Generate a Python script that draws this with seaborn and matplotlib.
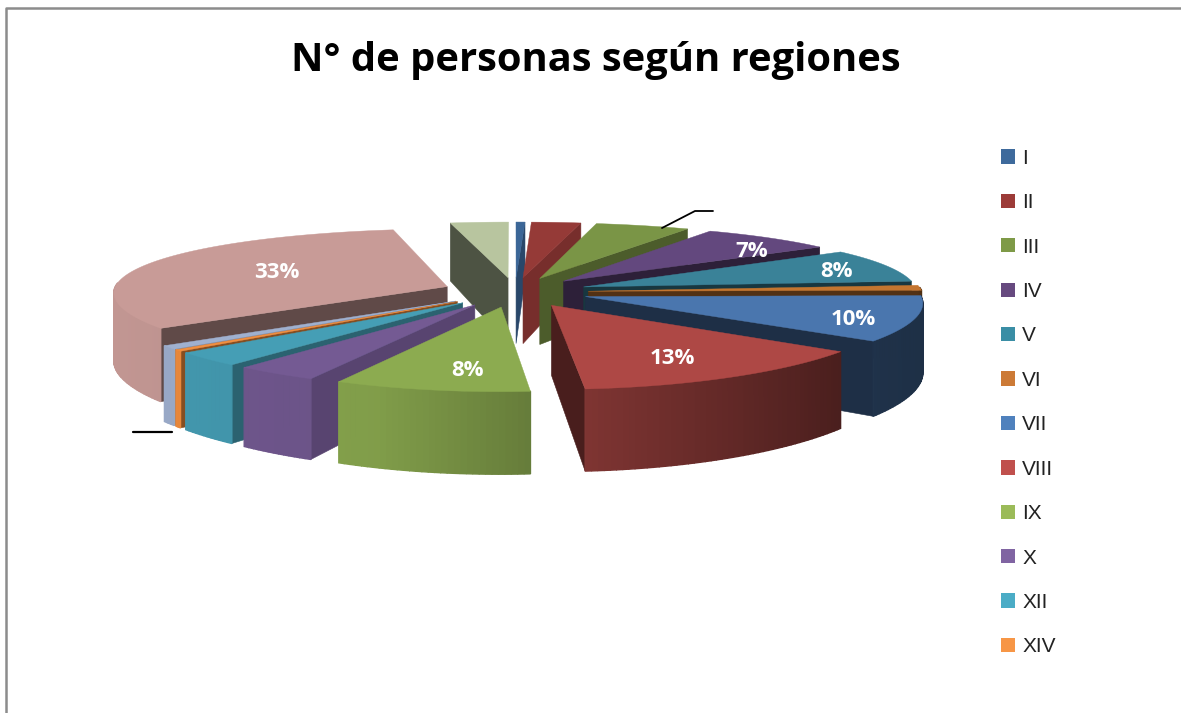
import numpy as np
import seaborn as sns
import matplotlib.pyplot as plt
from matplotlib.patches import Patch

# Regions and the size of their slices (the 3D view distorts them a little)
regions = ['I', 'II', 'III', 'IV', 'V', 'VI', 'VII', 'VIII', 'IX', 'X', 'XII', 'XIV', 'XV', 'RM', 'XVI']
shares = [0.47, 2.6, 5.0, 7.2, 8.3, 1.2, 10.3, 13.61, 8.56, 3.6, 3.1, 0.36, 0.83, 31.8, 3.06]
# the labels as they are printed on the chart
shown_labels = {'IV': '7%', 'V': '8%', 'VII': '10%', 'VIII': '13%', 'IX': '8%', 'RM': '33%'}
legend_regions = regions[:12]

colors = ['#3B6697', '#953A37', '#7A9546', '#63487E', '#3A8298', '#C4752F', '#4A76AE', '#AE4845',
          '#8CAB50', '#745A93', '#459EB5', '#F28E3E', '#9FB0CF', '#C89B97', '#B8C59F']
legend_colors = ['#3E6A9C', '#9C3B38', '#7E9A47', '#66497F', '#3A8EA5', '#CC7A36', '#4F81BD', '#C0504D',
                 '#9BBB59', '#8064A2', '#4BACC6', '#F79646']
wall_shade = [0.7, 0.8, 0.62, 0.45, 0.42, 0.42, 0.4, 0.42, 0.6, 0.76, 0.62, 0.55, 0.7, 0.48, 0.42]

# label spot on the slice: distance from the tip and turn from the middle of the slice
label_spot = {'IV': (0.78, 8), 'V': (0.815, 3), 'VII': (0.835, 4.5), 'VIII': (0.75, 3), 'IX': (0.78, -4), 'RM': (0.57, 1)}

# pie geometry in picture pixels
cx, cy = 515, 292
wide, deep = 334, 67.5
perspective_x, perspective_y = 0.08, 0.145
explode = 0.22
height = 68
start_angle = 0


def project(x, y, drop=0.0):
    """Flatten a point on the pie plane to picture pixels."""
    sx = 1 / (1 + perspective_x * y)
    sy = 1 / (1 + perspective_y * y)
    return cx + wide * x * sx, cy - deep * y * sy + drop * sy


def shade(color, factor):
    rgb = np.array(sns.color_palette([color])[0])
    return tuple(np.clip(rgb * factor, 0, 1))


def outer_factor(angle):
    return np.interp(np.sin(np.radians(angle)), [-1, -0.34, 0.1, 0.82, 1], [0.97, 0.92, 0.72, 0.42, 0.4])


def draw_slice(ax, start, end, color, wall):
    mid = np.radians((start + end) / 2)
    tip_x, tip_y = explode * np.sin(mid), explode * np.cos(mid)
    angles = np.linspace(start, end, max(int(end - start) + 2, 3))
    rim_x = tip_x + np.sin(np.radians(angles))
    rim_y = tip_y + np.cos(np.radians(angles))

    # radial walls, only the ones that face the viewer
    if np.sin(np.radians(start)) < 0:
        quad = [project(tip_x, tip_y), project(rim_x[0], rim_y[0]),
                project(rim_x[0], rim_y[0], height), project(tip_x, tip_y, height)]
        ax.fill(*zip(*quad), color=shade(color, wall), lw=0.4)
    if np.sin(np.radians(end)) > 0:
        quad = [project(tip_x, tip_y), project(rim_x[-1], rim_y[-1]),
                project(rim_x[-1], rim_y[-1], height), project(tip_x, tip_y, height)]
        ax.fill(*zip(*quad), color=shade(color, wall), lw=0.4)

    # outer wall in strips, so the shading can change with the angle
    for i in range(len(angles) - 1):
        if np.cos(np.radians(angles[i])) < 0.05 or np.cos(np.radians(angles[i + 1])) < 0.05:
            quad = [project(rim_x[i], rim_y[i]), project(rim_x[i + 1], rim_y[i + 1]),
                    project(rim_x[i + 1], rim_y[i + 1], height), project(rim_x[i], rim_y[i], height)]
            ax.fill(*zip(*quad), color=shade(color, outer_factor((angles[i] + angles[i + 1]) / 2)), lw=1)

    # top face
    top = [project(tip_x, tip_y)] + [project(x, y) for x, y in zip(rim_x, rim_y)]
    ax.fill(*zip(*top), color=color, lw=0.3)
    return tip_x, tip_y


sns.set_theme(style='white')
plt.rcParams['font.family'] = ['Open Sans', 'DejaVu Sans']

fig = plt.figure(figsize=(11.81, 7.13), dpi=100)
ax = fig.add_axes([0, 0, 1, 1])
ax.set_xlim(0, 1181)
ax.set_ylim(713, 0)
ax.axis('off')

# slice angles, clockwise from the top
edges = start_angle + np.cumsum([0] + shares) / sum(shares) * 360
mids = (edges[:-1] + edges[1:]) / 2

# back slices first, the front ones paint over them
tips = {}
for i in np.argsort(-np.cos(np.radians(mids))):
    tips[regions[i]] = draw_slice(ax, edges[i], edges[i + 1], colors[i], wall_shade[i])

for region, text in shown_labels.items():
    i = regions.index(region)
    tip_x, tip_y = tips[region]
    r, turn = label_spot[region]
    a = np.radians(mids[i] + turn)
    x, y = project(tip_x + r * np.sin(a), tip_y + r * np.cos(a))
    ax.text(x, y, text, color='white', fontsize=16, fontweight='bold', ha='center', va='center')

# leader lines of the labels that got lost
ax.plot([662, 695, 713], [228, 211, 211], color='black', lw=1.3)
ax.plot([133, 172], [432, 432], color='black', lw=1.6)

# frame of the chart area
ax.plot([6, 6, 1181], [713, 8, 8], color='#8c8c8c', lw=1.8)

ax.text(596, 60, 'N° de personas según regiones', fontsize=28.7, fontweight='bold', color='black',
        ha='center', va='center')

handles = [Patch(facecolor=c, edgecolor='none', label=r) for c, r in zip(legend_colors, legend_regions)]
ax.legend(handles=handles, loc='upper left', bbox_to_anchor=(982 / 1181, 1 - 130 / 713), frameon=False,
          prop={'family': 'Liberation Sans', 'size': 15}, labelspacing=1.22, handlelength=0.68,
          handleheight=0.68, handletextpad=0.35, borderpad=0.4, labelcolor='#222222')

fig.savefig('out.png', dpi=100)
